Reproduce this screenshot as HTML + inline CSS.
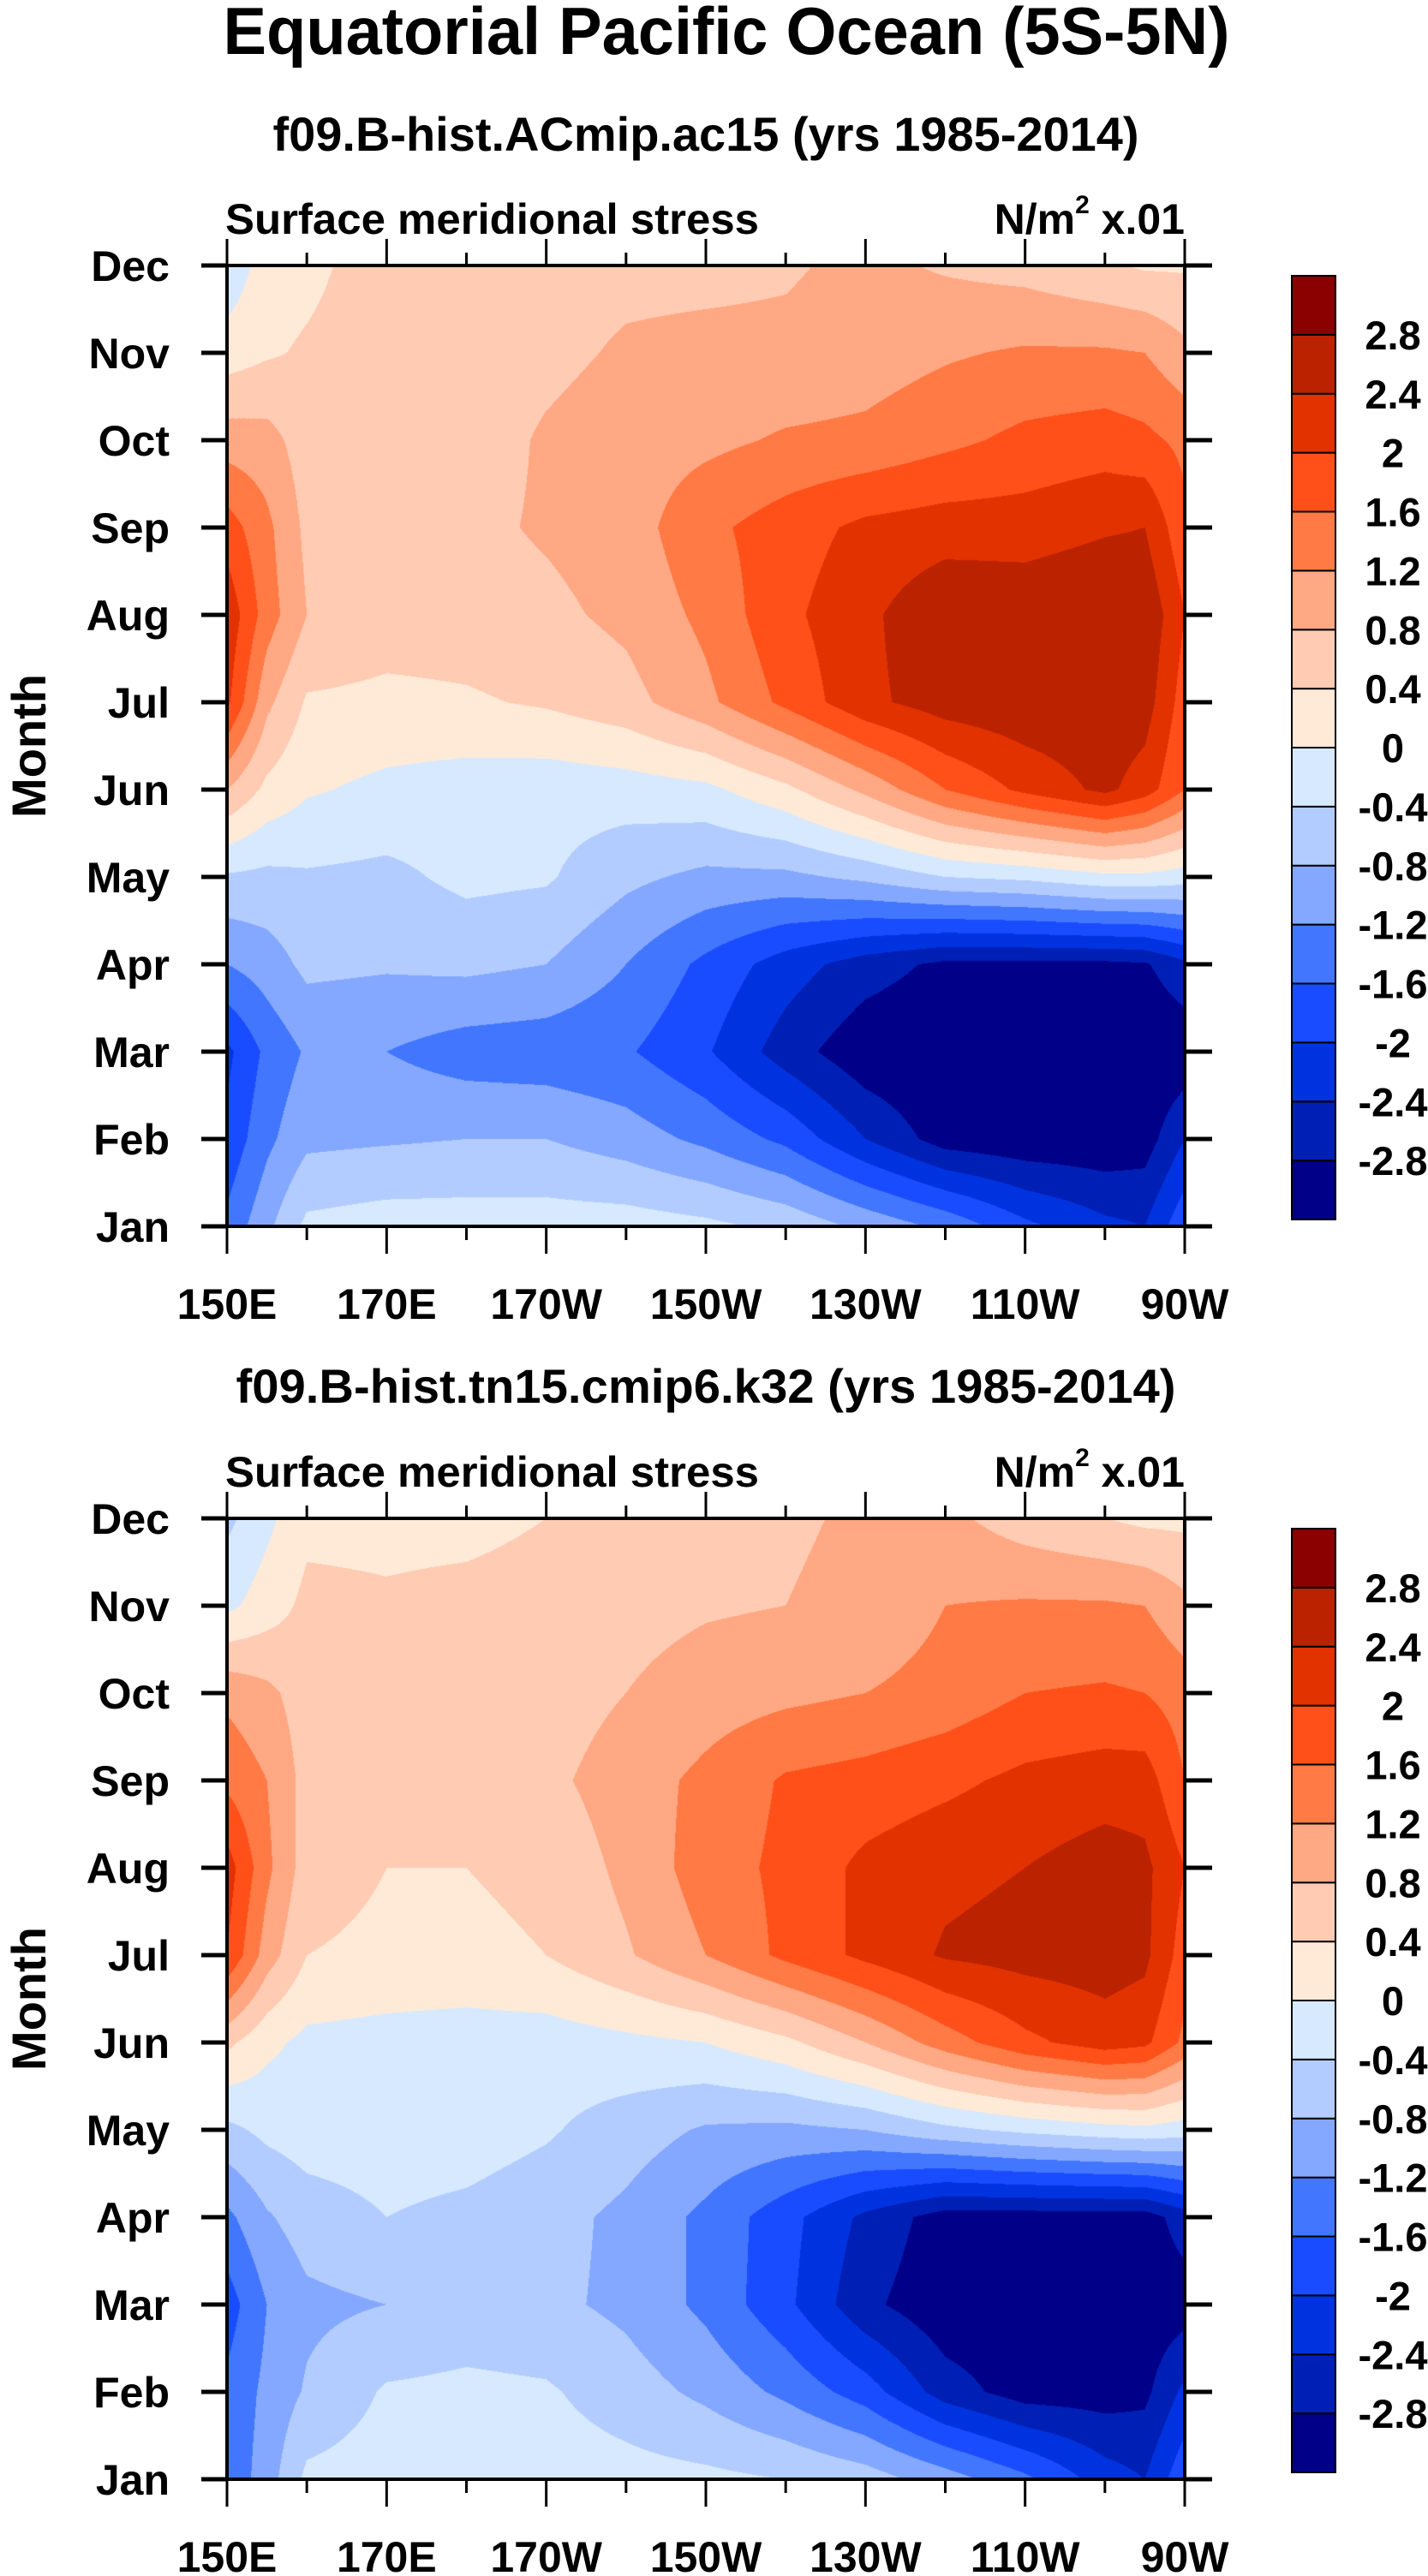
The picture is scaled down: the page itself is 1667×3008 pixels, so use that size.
<!DOCTYPE html>
<html><head><meta charset="utf-8">
<style>
html,body{margin:0;padding:0;background:#fff;}
#wrap{position:relative;width:1667px;height:3008px;overflow:hidden;}
canvas{position:absolute;}
svg{position:absolute;left:0;top:0;}
text{font-family:"Liberation Sans",sans-serif;font-weight:bold;fill:#000;}
</style></head>
<body>
<div id="wrap">
<canvas id="c1" width="1118" height="1122" style="left:265px;top:310px"></canvas>
<canvas id="c2" width="1118" height="1122" style="left:265px;top:1773px"></canvas>
<svg id="svg" width="1667" height="3008" xmlns="http://www.w3.org/2000/svg">
<text x="848" y="63" font-size="78" text-anchor="middle" textLength="1175" lengthAdjust="spacingAndGlyphs">Equatorial Pacific Ocean (5S-5N)</text>
<text x="824" y="176" font-size="56" text-anchor="middle" textLength="1011" lengthAdjust="spacingAndGlyphs">f09.B-hist.ACmip.ac15 (yrs 1985-2014)</text>
<text x="824" y="1638" font-size="56" text-anchor="middle" textLength="1097" lengthAdjust="spacingAndGlyphs">f09.B-hist.tn15.cmip6.k32 (yrs 1985-2014)</text>
</svg>
</div>
<script>
const months = ["Jan","Feb","Mar","Apr","May","Jun","Jul","Aug","Sep","Oct","Nov","Dec"];
// degrees east of 150E
const lonPoints = [0,5,10,20,30,40,50,60,70,80,90,100,110,115,120];
const xTickLabels = ["150E","170E","170W","150W","130W","110W","90W"];
const levels = [-2.8,-2.4,-2,-1.6,-1.2,-0.8,-0.4,0,0.4,0.8,1.2,1.6,2,2.4,2.8];
const levelLabels = ["-2.8","-2.4","-2","-1.6","-1.2","-0.8","-0.4","0","0.4","0.8","1.2","1.6","2","2.4","2.8"];
const colors = ["#000088","#001fb4","#0033e0","#1a4cff","#4276ff","#84a8ff","#b3ccff","#d6e9ff","#ffe9d7","#ffcbb2","#ffa883","#ff7a45","#ff5019","#e23200","#bb2200","#8b0000"];
// rows: Jan..Dec, columns: lonPoints
const run1Values = [
[-1.5,-0.9,-0.3,-0.2,-0.2,-0.2,-0.2,-0.3,-0.5,-0.9,-1.3,-1.9,-2.3,-2.4,-1.7],
[-1.9,-1.3,-0.9,-0.85,-0.8,-0.8,-1.0,-1.3,-1.7,-2.4,-3.0,-3.1,-3.1,-3.0,-2.4],
[-2.1,-1.5,-1.15,-1.2,-1.4,-1.45,-1.55,-1.95,-2.6,-3.1,-3.2,-3.2,-3.2,-3.2,-3.1],
[-1.2,-1.0,-0.7,-0.75,-0.7,-0.8,-1.2,-1.7,-2.2,-2.6,-2.9,-2.9,-2.9,-2.85,-2.5],
[-0.45,-0.5,-0.45,-0.5,-0.3,-0.35,-0.7,-0.9,-0.9,-0.7,-0.4,-0.3,-0.1,-0.1,-0.2],
[0.8,0.3,0.05,-0.1,-0.2,-0.25,-0.2,-0.1,0.3,0.9,1.6,2.1,2.5,2.2,1.6],
[2.1,0.9,0.35,0.3,0.35,0.45,0.65,1.1,1.7,2.3,2.6,2.7,2.7,2.6,1.8],
[2.3,1.4,0.8,0.6,0.6,0.7,0.9,1.3,1.9,2.3,2.75,2.7,2.8,2.75,2.0],
[1.8,1.3,0.7,0.6,0.7,0.85,1.0,1.5,1.8,2.1,2.2,2.2,2.35,2.4,1.7],
[1.0,0.95,0.6,0.6,0.6,0.85,1.0,1.1,1.25,1.3,1.5,1.7,1.8,1.7,1.5],
[0.2,0.35,0.45,0.6,0.6,0.7,0.85,0.9,0.9,1.0,1.15,1.25,1.25,1.2,0.9],
[-0.3,0.2,0.3,0.6,0.6,0.65,0.7,0.7,0.75,0.9,0.75,0.65,0.45,0.35,0.35]
];
const run2Values = [
[-1.5,-1.0,-0.3,-0.2,-0.2,-0.2,-0.25,-0.3,-0.4,-0.6,-1.0,-1.5,-2.2,-2.4,-1.7],
[-1.5,-1.1,-0.75,-0.35,-0.3,-0.35,-0.6,-0.9,-1.3,-1.8,-2.6,-3.0,-3.0,-2.9,-2.3],
[-1.8,-1.2,-0.9,-0.8,-0.65,-0.7,-0.9,-1.3,-1.9,-2.7,-3.1,-3.1,-3.1,-3.1,-3.0],
[-1.3,-0.85,-0.6,-0.4,-0.5,-0.65,-0.9,-1.3,-1.85,-2.5,-3.0,-3.0,-3.0,-3.0,-2.6],
[-0.5,-0.3,-0.2,-0.2,-0.2,-0.35,-0.6,-0.85,-0.9,-0.8,-0.5,-0.3,-0.15,-0.1,-0.2],
[0.5,0.1,-0.1,-0.15,-0.2,-0.2,-0.1,0.0,0.3,0.8,1.4,1.9,2.2,2.1,1.5],
[2.0,1.0,0.4,0.3,0.3,0.4,0.75,1.2,1.7,2.1,2.45,2.55,2.6,2.5,1.8],
[2.2,1.3,0.6,0.4,0.4,0.5,0.9,1.4,1.7,2.1,2.3,2.4,2.6,2.5,2.0],
[1.5,1.2,0.65,0.6,0.6,0.7,1.0,1.3,1.65,1.75,1.9,2.1,2.2,2.2,1.6],
[1.1,0.9,0.6,0.55,0.55,0.6,0.8,1.0,1.1,1.2,1.35,1.6,1.65,1.6,1.4],
[-0.1,0.2,0.5,0.45,0.5,0.55,0.65,0.75,0.8,0.9,1.2,1.25,1.25,1.2,0.9],
[-0.5,-0.1,0.3,0.3,0.3,0.4,0.5,0.65,0.75,0.85,0.9,0.6,0.4,0.3,0.3]
];

const SPAN = 120;
const PL = 265, PW = 1118, PH = 1122;
const panelTops = [310, 1773];
const NS = "http://www.w3.org/2000/svg";
const svg = document.getElementById('svg');

function hexToRgb(h){return [parseInt(h.slice(1,3),16),parseInt(h.slice(3,5),16),parseInt(h.slice(5,7),16)];}
const rgb = colors.map(hexToRgb);
function classify(v){let i=0;while(i<levels.length && v>=levels[i]) i++;return i;}
function interp(vals, lon, m){
  let j=0; while(j<lonPoints.length-2 && lon>lonPoints[j+1]) j++;
  const tx=(lon-lonPoints[j])/(lonPoints[j+1]-lonPoints[j]);
  let i=Math.min(Math.floor(m),10); const ty=m-i;
  const a=vals[i][j]*(1-tx)+vals[i][j+1]*tx;
  const b=vals[i+1][j]*(1-tx)+vals[i+1][j+1]*tx;
  return a*(1-ty)+b*ty;
}
function drawField(id, vals){
  const c=document.getElementById(id), ctx=c.getContext('2d');
  const img=ctx.createImageData(PW,PH);
  for(let py=0;py<PH;py++){
    const m=11*(1-(py+0.5)/PH);
    for(let px=0;px<PW;px++){
      const lon=SPAN*(px+0.5)/PW;
      const col=rgb[classify(interp(vals,lon,m))];
      const k=(py*PW+px)*4;
      img.data[k]=col[0];img.data[k+1]=col[1];img.data[k+2]=col[2];img.data[k+3]=255;
    }
  }
  ctx.putImageData(img,0,0);
}
drawField('c1', run1Values);
drawField('c2', run2Values);

function mk(tag, attrs, text){
  const e=document.createElementNS(NS,tag);
  for(const k in attrs) e.setAttribute(k,attrs[k]);
  if(text!==undefined) e.textContent=text;
  svg.appendChild(e); return e;
}

panelTops.forEach((top,p)=>{
  const xS = d => PL + d/SPAN*PW;
  const yS = m => top + (11-m)/11*PH;
  const bottom = top+PH, right = PL+PW;
  const fr = mk('rect',{x:PL,y:top,width:PW,height:PH,fill:'none',stroke:'#000','stroke-width':4});
  
  
  for(let d=0; d<=SPAN; d+=10){
    const major = d%20===0, len = major?31:15;
    const x=xS(d);
    const t1=mk('line',{x1:x,y1:top,x2:x,y2:top-len,stroke:'#000','stroke-width':3});
    
    
    const t2=mk('line',{x1:x,y1:bottom,x2:x,y2:bottom+len+1,stroke:'#000','stroke-width':3});
    
    
    if(major){
      const lb=mk('text',{x:x,y:bottom+108,'font-size':50,'text-anchor':'middle'},xTickLabels[d/20|0]);
      
      
    }
  }
  months.forEach((mn,m)=>{
    const y=yS(m);
    const a=mk('line',{x1:PL-30,y1:y,x2:PL,y2:y,stroke:'#000','stroke-width':5});
    
    
    const b=mk('line',{x1:right,y1:y,x2:right+32,y2:y,stroke:'#000','stroke-width':5});
    
    
    const lb=mk('text',{x:198,y:y+18,'font-size':50,'text-anchor':'end'},mn);
    
    
  });
  const yl=mk('text',{x:0,y:0,'font-size':56,'text-anchor':'middle',transform:`translate(53,${top+PH/2}) rotate(-90)`},'Month');
  
  
  const ls=mk('text',{x:PL-2,y:top-37,'font-size':50,textLength:623,lengthAdjust:'spacingAndGlyphs'},'Surface meridional stress');
  
  
  const un=mk('text',{x:right,y:top-37,'font-size':50,'text-anchor':'end'});
  
  
  un.innerHTML='N/m<tspan font-size="30" dy="-24">2</tspan><tspan dy="24"> x.01</tspan>';
  const cbTop = top+12, cbBot = top+1114, cbX=1508, cbW=51;
  const bh=(cbBot-cbTop)/colors.length;
  colors.forEach((c,i)=>{
    const r=mk('rect',{x:cbX,y:cbBot-(i+1)*bh,width:cbW,height:bh,fill:c,stroke:'#000','stroke-width':2});
    
    
  });
  levelLabels.forEach((l,i)=>{
    const t=mk('text',{x:1626,y:cbBot-(i+1)*bh+17,'font-size':47,'text-anchor':'middle'},l);
    
    
  });
});
</script>
</body></html>
